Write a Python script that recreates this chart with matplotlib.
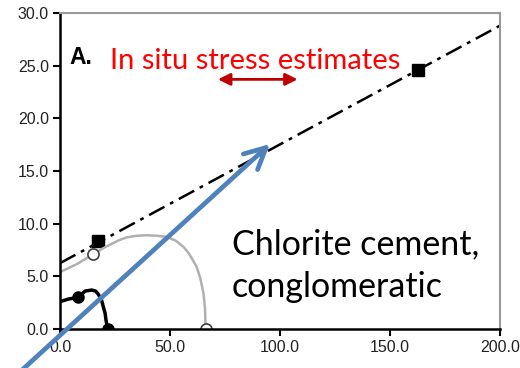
import matplotlib
matplotlib.use("Agg")
import matplotlib.pyplot as plt
from matplotlib.patches import FancyArrowPatch

# values
gray_x = [0, 8, 15.1, 19, 22.7, 26.5, 30.3, 35, 39.4, 44, 48.5, 52.5, 56.1, 58.5,
          60.5, 62.1, 63.8, 65.2, 65.9, 66.2]
gray_y = [5.4, 6.2, 7.1, 7.6, 8.0, 8.4, 8.7, 8.85, 8.9, 8.85, 8.75, 8.4, 7.8, 7.2,
          6.5, 5.9, 4.8, 3.4, 2.0, 0.0]
gray_pts_x = [15.1, 66.2]
gray_pts_y = [7.1, 0.0]

black_x = [0, 4, 8.3, 11.4, 14.4, 16.2, 17.4, 18.8, 19.7, 20.5, 20.9, 21.7]
black_y = [2.6, 2.85, 3.0, 3.6, 3.7, 3.6, 3.3, 2.8, 2.1, 1.5, 0.85, 0.0]
black_pts_x = [8.3, 21.7]
black_pts_y = [3.0, 0.0]

env_x = [0, 200]
env_y = [6.25, 28.8]
sq_x = [17.4, 162.9]
sq_y = [8.37, 24.6]

stress_x = [71.8, 108.0]
stress_y = 23.7

x_ticks = [0, 50, 100, 150, 200]
y_ticks = [0, 5, 10, 15, 20, 25, 30]

fig = plt.figure(figsize=(5.2, 3.68), dpi=100)
ax = fig.add_axes([60 / 520, 1 - 329 / 368, 440 / 520, 316 / 368])

ax.plot(env_x, env_y, color="black", lw=1.8, dashes=(7, 2.5, 1.5, 2.5))
ax.plot(sq_x, sq_y, "s", color="black", ms=8.5)

ax.plot(gray_x, gray_y, color="#b0b0b0", lw=1.8, solid_joinstyle="round")
ax.plot(gray_pts_x, gray_pts_y, "o", mfc="white", mec="#404040", mew=1.2, ms=8)

ax.plot(black_x, black_y, color="black", lw=2.5, solid_joinstyle="round")
ax.plot(black_pts_x, black_pts_y, "o", color="black", ms=8)

ax.annotate("", xy=(stress_x[0], stress_y), xytext=(stress_x[1], stress_y),
            arrowprops=dict(arrowstyle="<|-|>", color="#c00000", lw=2,
                            mutation_scale=18, shrinkA=0, shrinkB=0))

ax.text(4.5, 25.2, "A.", fontsize=16.5, weight="bold", family="Liberation Sans")
ax.text(22.7, 24.7, "In situ stress estimates", fontsize=21, color="red",
        family="Lato")
ax.text(78.2, 7.1, "Chlorite cement,", fontsize=24.5, family="Lato")
ax.text(78.2, 3.0, "conglomeratic", fontsize=24.5, family="Lato")

ax.set_xlim(0, 200)
ax.set_ylim(0, 30)
ax.set_xticks(x_ticks)
ax.set_xticklabels([f"{v:.1f}" for v in x_ticks])
ax.set_yticks(y_ticks)
ax.set_yticklabels([f"{v:.1f}" for v in y_ticks])
ax.tick_params(direction="out", length=5, width=1.5, color="black",
               labelsize=11.5, labelcolor="#222222", pad=3)
for lab in ax.get_xticklabels() + ax.get_yticklabels():
    lab.set_family("Liberation Sans")
ax.spines["left"].set_linewidth(1.8)
ax.spines["bottom"].set_linewidth(1.8)
ax.spines["top"].set_color("#999999")
ax.spines["right"].set_color("#999999")
ax.spines["top"].set_linewidth(1.5)
ax.spines["right"].set_linewidth(1.5)

# blue pointer drawn over the whole figure
arrow = FancyArrowPatch((22 / 520, -2 / 368), (270 / 520, 224 / 368),
                        transform=fig.transFigure, arrowstyle="->",
                        mutation_scale=38, color="#4f81bd", lw=3.4,
                        shrinkA=0, shrinkB=0, clip_on=False,
                        capstyle="round", joinstyle="round")
fig.patches.append(arrow)

fig.savefig("out.png", dpi=100)
